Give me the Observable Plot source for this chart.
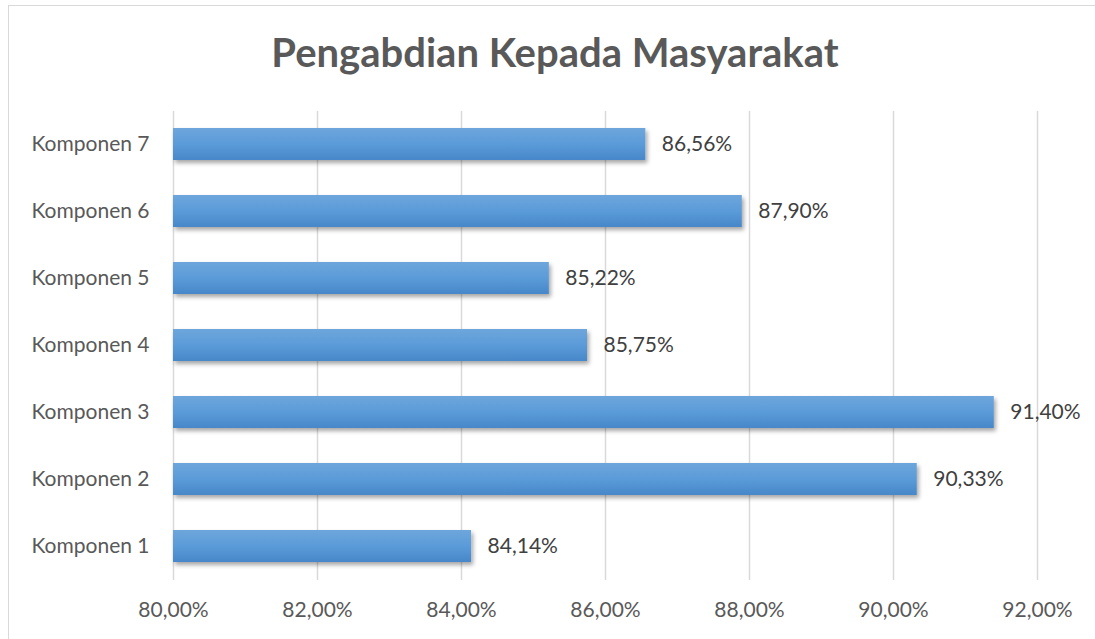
<!DOCTYPE html>
<html>
<head>
<meta charset="utf-8">
<script src="https://cdn.jsdelivr.net/npm/d3@7"></script>
<script src="https://cdn.jsdelivr.net/npm/@observablehq/plot@0.6"></script>
<style>
  html, body { margin: 0; padding: 0; background: #fff; }
  #wrap { position: relative; width: 1095px; height: 639px; overflow: hidden; }
  #frame { position: absolute; left: 8px; top: 5px; width: 1100px; height: 650px; border: 1.5px solid #d9d9d9; box-sizing: border-box; }
  #title { position: absolute; left: 0; top: 28px; width: 1095px; text-align: center; padding-left: 15px; box-sizing: border-box;
           font-family: Lato, "Open Sans", sans-serif; font-weight: bold; font-size: 40px; color: #595959; }
  #chart { position: absolute; left: 0; top: 0; }
</style>
</head>
<body>
<div id="wrap">
  <div id="frame"></div>
  <div id="chart"></div>
  <div id="title">Pengabdian Kepada Masyarakat</div>
</div>
<script>
const categories = ["Komponen 1", "Komponen 2", "Komponen 3", "Komponen 4", "Komponen 5", "Komponen 6", "Komponen 7"];
const values = [84.14, 90.33, 91.40, 85.75, 85.22, 87.90, 86.56];
const xTicks = [80, 82, 84, 86, 88, 90, 92];

const data = categories.map((c, i) => ({category: c, value: values[i]}));
const fmt = d => d.toFixed(2).replace(".", ",") + "%";

const plot = Plot.plot({
  width: 1095,
  height: 639,
  marginLeft: 173,
  marginRight: 58,
  marginTop: 111,
  marginBottom: 59,
  style: {fontFamily: "Lato, 'Open Sans', sans-serif", fontSize: "21px", color: "#595959", background: "transparent"},
  x: {domain: [80, 92], ticks: xTicks, tickFormat: fmt, label: null, tickSize: 0, tickPadding: 22},
  y: {domain: categories.slice().reverse(), paddingInner: 0.52, paddingOuter: 0.26, label: null, tickSize: 0, tickPadding: 24},
  marks: [
    Plot.gridX(xTicks, {stroke: "#d9d9d9", strokeOpacity: 1, strokeWidth: 1.5}),
    Plot.barX(data, {x1: 80, x2: "value", y: "category", fill: "#5b9bd5"}),
    Plot.text(data, {x: "value", y: "category", text: d => fmt(d.value), dx: 16, textAnchor: "start", fill: "#404040", fontSize: 21})
  ]
});
document.getElementById("chart").appendChild(plot);

const svg = d3.select(plot);
const defs = svg.insert("defs", ":first-child");
const grad = defs.append("linearGradient").attr("id", "barGrad").attr("x1", 0).attr("y1", 0).attr("x2", 0).attr("y2", 1);
grad.append("stop").attr("offset", "0%").attr("stop-color", "#6ea6dc");
grad.append("stop").attr("offset", "50%").attr("stop-color", "#5b9bd9");
grad.append("stop").attr("offset", "100%").attr("stop-color", "#4787c9");
const filt = defs.append("filter").attr("id", "barShadow").attr("x", "-5%").attr("y", "-30%").attr("width", "115%").attr("height", "180%");
filt.append("feDropShadow").attr("dx", 2).attr("dy", 3).attr("stdDeviation", 2).attr("flood-color", "#000").attr("flood-opacity", 0.35);
svg.selectAll("g[aria-label='bar'] rect").attr("fill", "url(#barGrad)").attr("filter", "url(#barShadow)");
</script>
</body>
</html>
